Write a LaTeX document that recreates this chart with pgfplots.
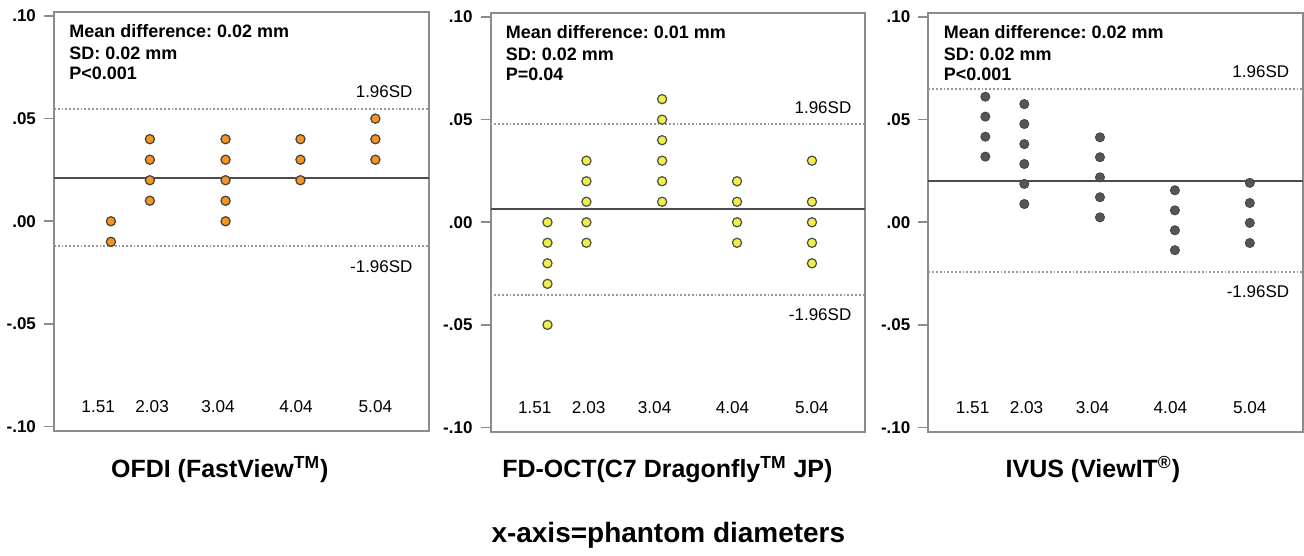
\documentclass[border=0pt]{standalone}
\usepackage{pgfplots}
\pgfplotsset{compat=1.18}
\usepackage{fontspec}
\setmainfont{Liberation Sans}
\frenchspacing

\definecolor{dotorange}{RGB}{247,148,30}
\definecolor{dotyellow}{RGB}{243,238,70}
\definecolor{dotgray}{RGB}{85,85,85}
\definecolor{framegray}{RGB}{140,140,140}

\pgfplotsset{
  bland/.style={
    scale only axis, width=187.5pt, height=209.5pt,
    anchor=north west,
    xmin=0.75, xmax=5.75, ymin=-0.102, ymax=0.102,
    xtick=\empty,
    ytick={-0.1,-0.05,0,0.05,0.1},
    yticklabels={-.10,-.05,.00,.05,.10},
    ytick pos=left,
    tick align=outside, major tick length=5pt,
    y tick style={framegray, line width=0.8pt},
    axis line style={framegray, line width=1pt},
    yticklabel style={font=\fontsize{8.5}{9}\selectfont\bfseries, xshift=-0.5pt},
    clip=false,
  },
  meanline/.style={gray!60!black, line width=1pt},
  limline/.style={gray!80, line width=0.9pt, densely dotted},
  dots/.style={only marks, mark=*, mark size=2.3pt},
}

\newcommand{\xnames}{%
  \node[font=\fontsize{8.6}{10}\selectfont] at (axis cs:1.34,-0.0905) {1.51};
  \node[font=\fontsize{8.6}{10}\selectfont] at (axis cs:2.06,-0.0905) {2.03};
  \node[font=\fontsize{8.6}{10}\selectfont] at (axis cs:2.94,-0.0905) {3.04};
  \node[font=\fontsize{8.6}{10}\selectfont] at (axis cs:3.98,-0.0905) {4.04};
  \node[font=\fontsize{8.6}{10}\selectfont] at (axis cs:5.04,-0.0905) {5.04};
}
\newcommand{\stats}[3]{%
  \node[anchor=base west, font=\fontsize{9}{9}\selectfont\bfseries, inner sep=0pt] at (rel axis cs:0.04,0.939) {#1};
  \node[anchor=base west, font=\fontsize{9}{9}\selectfont\bfseries, inner sep=0pt] at (rel axis cs:0.04,0.887) {#2};
  \node[anchor=base west, font=\fontsize{9}{9}\selectfont\bfseries, inner sep=0pt] at (rel axis cs:0.04,0.838) {#3};
}

\begin{document}
\begin{tikzpicture}
\path (0pt,0pt) rectangle (652pt,275pt);

% OFDI
\begin{axis}[bland, at={(27pt,269pt)}]
\addplot[limline] coordinates {(0.75,0.0549)(5.75,0.0549)};
\addplot[limline] coordinates {(0.75,-0.0122)(5.75,-0.0122)};
\addplot[meanline] coordinates {(0.75,0.0213)(5.75,0.0213)};
\addplot[dots, mark options={fill=dotorange, draw=black!75, line width=0.6pt}] coordinates {
  (1.51,0.00)(1.51,-0.01)
  (2.03,0.04)(2.03,0.03)(2.03,0.02)(2.03,0.01)
  (3.04,0.04)(3.04,0.03)(3.04,0.02)(3.04,0.01)(3.04,0.00)
  (4.04,0.04)(4.04,0.03)(4.04,0.02)
  (5.04,0.05)(5.04,0.04)(5.04,0.03)};
\stats{Mean difference: 0.02 mm}{SD: 0.02 mm}{P<0.001}
\node[anchor=east, inner sep=0pt, font=\fontsize{8.5}{9}\selectfont] at (axis cs:5.54,0.0634) {1.96SD};
\node[anchor=east, inner sep=0pt, font=\fontsize{8.5}{9}\selectfont] at (axis cs:5.54,-0.0222) {-1.96SD};
\xnames
\end{axis}

% FD-OCT
\begin{axis}[bland, at={(245.5pt,268.5pt)}]
\addplot[limline] coordinates {(0.75,0.0479)(5.75,0.0479)};
\addplot[limline] coordinates {(0.75,-0.0354)(5.75,-0.0354)};
\addplot[meanline] coordinates {(0.75,0.0063)(5.75,0.0063)};
\addplot[dots, mark options={fill=dotyellow, draw=black!70, line width=0.6pt}] coordinates {
  (1.51,0.00)(1.51,-0.01)(1.51,-0.02)(1.51,-0.03)(1.51,-0.05)
  (2.03,0.03)(2.03,0.02)(2.03,0.01)(2.03,0.00)(2.03,-0.01)
  (3.04,0.06)(3.04,0.05)(3.04,0.04)(3.04,0.03)(3.04,0.02)(3.04,0.01)
  (4.04,0.02)(4.04,0.01)(4.04,0.00)(4.04,-0.01)
  (5.04,0.03)(5.04,0.01)(5.04,0.00)(5.04,-0.01)(5.04,-0.02)};
\stats{Mean difference: 0.01 mm}{SD: 0.02 mm}{P=0.04}
\node[anchor=east, inner sep=0pt, font=\fontsize{8.5}{9}\selectfont] at (axis cs:5.57,0.056) {1.96SD};
\node[anchor=east, inner sep=0pt, font=\fontsize{8.5}{9}\selectfont] at (axis cs:5.57,-0.045) {-1.96SD};
\xnames
\end{axis}

% IVUS
\begin{axis}[bland, at={(464.65pt,268.5pt)}]
\addplot[limline] coordinates {(0.75,0.0648)(5.75,0.0648)};
\addplot[limline] coordinates {(0.75,-0.0244)(5.75,-0.0244)};
\addplot[meanline] coordinates {(0.75,0.0200)(5.75,0.0200)};
\addplot[dots, mark options={fill=dotgray, draw=dotgray!80!black, line width=0.4pt}] coordinates {
  (1.51,0.0612)(1.51,0.0515)(1.51,0.0417)(1.51,0.0320)
  (2.03,0.0576)(2.03,0.0479)(2.03,0.0381)(2.03,0.0284)(2.03,0.0187)(2.03,0.0089)
  (3.04,0.0414)(3.04,0.0317)(3.04,0.0219)(3.04,0.0122)(3.04,0.0024)
  (4.04,0.0156)(4.04,0.0058)(4.04,-0.0039)(4.04,-0.0136)
  (5.04,0.0192)(5.04,0.0094)(5.04,-0.0003)(5.04,-0.0101)};
\stats{Mean difference: 0.02 mm}{SD: 0.02 mm}{P<0.001}
\node[anchor=east, inner sep=0pt, font=\fontsize{8.5}{9}\selectfont] at (axis cs:5.57,0.0732) {1.96SD};
\node[anchor=east, inner sep=0pt, font=\fontsize{8.5}{9}\selectfont] at (axis cs:5.57,-0.0337) {-1.96SD};
\xnames
\end{axis}

\node[font=\fontsize{12.5}{13}\selectfont\bfseries] at (110pt,40pt) {OFDI (FastView\textsuperscript{TM})};
\node[font=\fontsize{12.5}{13}\selectfont\bfseries] at (334pt,40pt) {FD-OCT(C7 Dragonfly\textsuperscript{TM} JP)};
\node[font=\fontsize{12.5}{13}\selectfont\bfseries] at (547pt,40pt) {IVUS (ViewIT\textsuperscript{®})};
\node[font=\fontsize{14}{15}\selectfont\bfseries] at (334.5pt,7pt) {x-axis=phantom diameters};
\end{tikzpicture}
\end{document}
